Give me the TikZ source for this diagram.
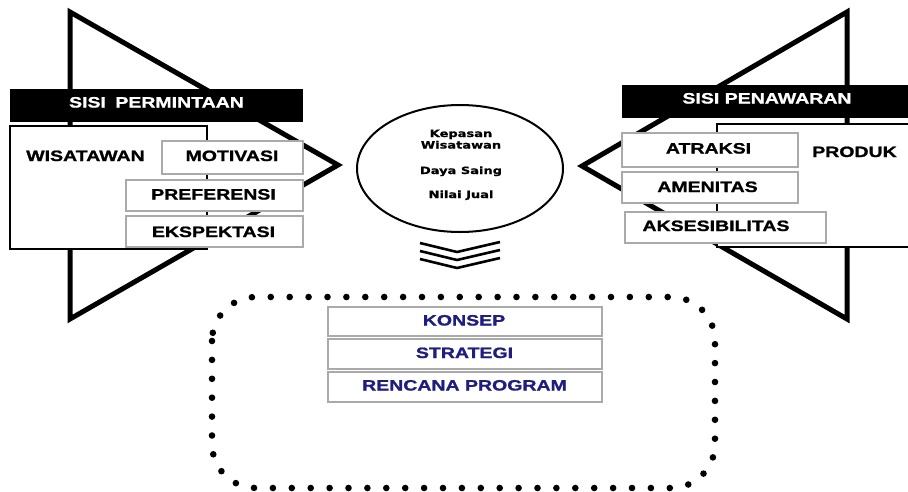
\documentclass[tikz,border=0pt]{standalone}
\usepackage{fontspec}
\usetikzlibrary{shapes.geometric}
\newfontfamily\boxfont{Liberation Sans Bold}[FakeStretch=1.3, FakeBold=1.2]
\newfontfamily\circfont{DejaVu Sans Bold}[FakeStretch=1.3, FakeBold=0.8]
\definecolor{navy}{RGB}{32,30,125}
\definecolor{boxgray}{RGB}{170,170,170}
\tikzset{
  tri/.style={line width=5pt, line join=miter},
  blackbar/.style={fill=black, draw=none},
  wbox/.style={draw=black, line width=1.3pt, fill=white},
  gbox/.style={draw=boxgray, line width=1.9pt, fill=white},
  lbl/.style={font=\boxfont\fontsize{15}{18}\selectfont, anchor=base, inner sep=0pt},
  wlbl/.style={lbl, text=white},
  blbl/.style={lbl, text=navy},
  clbl/.style={font=\circfont\fontsize{10}{12}\selectfont, anchor=base, inner sep=0pt},
  chev/.style={line width=2.6pt, line join=miter},
  dots/.style={line width=6.6pt, line cap=round, dash pattern=on 0pt off 18.9pt, rounded corners=44pt}
}
\begin{document}
\begin{tikzpicture}[x=1pt,y=-1pt]
\useasboundingbox (0,0) rectangle (908,491);
% triangles
\coordinate (lt) at (70,12);
\coordinate (ltip) at (338,165);
\coordinate (lb) at (70,319);
\draw[tri] (lt) -- (ltip) -- (lb) -- cycle;
\coordinate (rt) at (847,12);
\coordinate (rtip) at (582,166);
\coordinate (rb) at (847,319);
\draw[tri] (rt) -- (rtip) -- (rb) -- cycle;
% left side
\fill[blackbar] (10,89) rectangle (303,122);
\node[wlbl] (sp) at (156.5,107.5) {SISI\hspace{4pt} PERMINTAAN};
\draw[wbox] (10,126) rectangle (207,249);
\node[lbl] (wis) at (85.5,161) {WISATAWAN};
\node[gbox, minimum width=141pt, minimum height=33pt, inner sep=0pt] (motb) at (232.5,157.5) {};
\node[lbl] (mot) at (232,161) {MOTIVASI};
\node[gbox, minimum width=177pt, minimum height=31pt, inner sep=0pt] (prefb) at (214.5,195.5) {};
\node[lbl] (pref) at (213.5,199.5) {PREFERENSI};
\node[gbox, minimum width=177pt, minimum height=31pt, inner sep=0pt] (ekspb) at (214.5,231.5) {};
\node[lbl] (eksp) at (213.5,237) {EKSPEKTASI};
% right side
\fill[blackbar] (622,85) rectangle (912,118);
\node[wlbl] (spn) at (767,103.5) {SISI PENAWARAN};
\draw[wbox] (717,124) rectangle (912,247);
\node[lbl] (prod) at (854.5,157) {PRODUK};
\node[gbox, minimum width=176pt, minimum height=34pt, inner sep=0pt] (atrb) at (710,150) {};
\node[lbl] (atr) at (708.5,153.5) {ATRAKSI};
\node[gbox, minimum width=176pt, minimum height=31pt, inner sep=0pt] (amenb) at (710,187.5) {};
\node[lbl] (amen) at (707.5,192) {AMENITAS};
\node[gbox, minimum width=201pt, minimum height=31pt, inner sep=0pt] (aksb) at (725.5,227.5) {};
\node[lbl] (aks) at (716,231) {AKSESIBILITAS};
% centre ellipse
\node[draw, ellipse, line width=2pt, fill=white, minimum width=206pt, minimum height=127pt, inner sep=0pt] (circ) at (460,168.5) {};
\node[clbl] (c1) at (461,137) {Kepasan};
\node[clbl] (c2) at (461,148.5) {Wisatawan};
\node[clbl] (c3) at (461,174) {Daya Saing};
\node[clbl] (c4) at (461,198) {Nilai Jual};
% chevrons
\foreach \d in {0,8,16}{
  \draw[chev] (420,243+\d) -- (457,252+\d) -- (500,242+\d);
}
% dotted frame
\draw[dots] (212,297) rectangle (715,488);
% bottom boxes
\node[gbox, minimum width=274pt, minimum height=29pt, inner sep=0pt] (konb) at (465,321.5) {};
\node[blbl] (kon) at (464,325.5) {KONSEP};
\node[gbox, minimum width=274pt, minimum height=30pt, inner sep=0pt] (strb) at (465,354) {};
\node[blbl] (str) at (464.5,358) {STRATEGI};
\node[gbox, minimum width=274pt, minimum height=30pt, inner sep=0pt] (renb) at (465,387) {};
\node[blbl] (ren) at (464.5,390.5) {RENCANA PROGRAM};
\end{tikzpicture}
\end{document}
